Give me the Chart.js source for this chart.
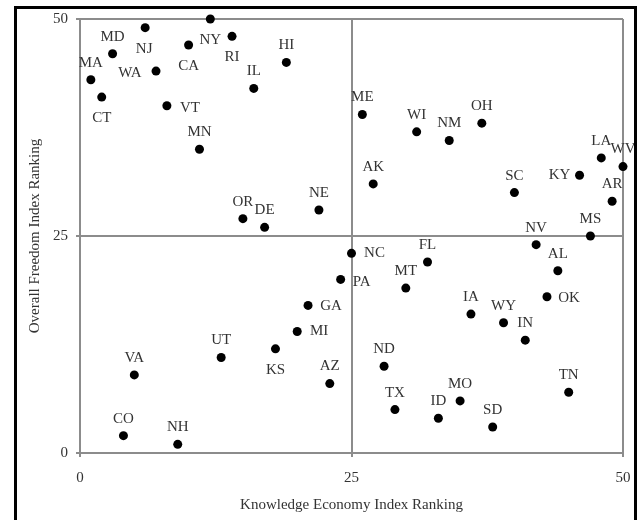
<!DOCTYPE html>
<html>
<head>
<meta charset="utf-8">
<script src="https://cdn.jsdelivr.net/npm/chart.js@4"></script>
<style>
  body { margin: 0; background: #fff; }
  #wrap { width: 644px; height: 520px; }
</style>
</head>
<body>
<div id="wrap"><canvas id="myChart" width="644" height="520"></canvas></div>
<script>
// State labels with Knowledge Economy rank (x) and Overall Freedom rank (y)
const states = ['MA','CT','MD','CO','VA','NJ','WA','VT','NH','CA',
                'MN','NY','UT','RI','OR','IL','DE','KS','HI','MI',
                'GA','NE','AZ','PA','NC','ME','AK','ND','TX','MT',
                'WI','FL','ID','NM','MO','IA','OH','SD','WY','SC',
                'IN','NV','OK','AL','TN','KY','MS','LA','AR','WV'];
const knowledgeRank = [1,2,3,4,5,6,7,8,9,10,
                       11,12,13,14,15,16,17,18,19,20,
                       21,22,23,24,25,26,27,28,29,30,
                       31,32,33,34,35,36,37,38,39,40,
                       41,42,43,44,45,46,47,48,49,50];
const freedomRank = [43,41,46,2,9,49,44,40,1,47,
                     35,50,11,48,27,42,26,12,45,14,
                     17,28,8,20,23,39,31,10,5,19,
                     37,22,4,36,6,16,38,3,15,30,
                     13,24,18,21,7,32,25,34,29,33];
const tickValues = [0, 25, 50];

// where each label sits relative to its dot (default: above)
const labelOffset = {
    CT: [0, 21], NJ: [-1, 21], CA: [0, 21], NY: [0, 21], RI: [0, 21], KS: [0, 21],
    WA: [-26, 2], KY: [-20, 0],
    VT: [23, 2], NC: [23, 0], PA: [21, 3], OK: [22, 1], GA: [23, 1], MI: [22, 0]
};

const FONT = 'Liberation Serif, Times New Roman, serif';
const GRID = '#8c8c8c';

const points = states.map((s, i) => ({ x: knowledgeRank[i], y: freedomRank[i], label: s }));

// draws the state abbreviations next to each dot
const stateLabels = {
    id: 'stateLabels',
    afterDatasetsDraw(chart) {
        const ctx = chart.ctx;
        const meta = chart.getDatasetMeta(0);
        ctx.save();
        ctx.font = '15px ' + FONT;
        ctx.fillStyle = '#333';
        ctx.textAlign = 'center';
        ctx.textBaseline = 'middle';
        meta.data.forEach((pt, i) => {
            const off = labelOffset[states[i]] || [0, -17];
            ctx.fillText(states[i], pt.x + off[0], pt.y + off[1]);
        });
        ctx.restore();
    }
};

// black frame round the whole picture
const outerFrame = {
    id: 'outerFrame',
    afterDraw(chart) {
        const ctx = chart.ctx;
        ctx.save();
        ctx.strokeStyle = '#000';
        ctx.lineWidth = 3;
        ctx.strokeRect(15.5, 7.5, 620, 520);
        ctx.restore();
    }
};

const ctx = document.getElementById('myChart').getContext('2d');
new Chart(ctx, {
    type: 'scatter',
    data: {
        datasets: [{
            data: points,
            backgroundColor: '#000',
            borderWidth: 0,
            pointRadius: 4.5,
            pointHoverRadius: 4.5,
            clip: false
        }]
    },
    options: {
        responsive: false,
        animation: false,
        layout: { padding: { top: 19, right: 21, left: 0, bottom: 0 } },
        plugins: {
            legend: { display: false },
            tooltip: { enabled: false }
        },
        scales: {
            x: {
                type: 'linear',
                min: 0,
                max: 50,
                afterBuildTicks: axis => { axis.ticks = tickValues.map(v => ({ value: v })); },
                afterFit: axis => { axis.height = 67; },
                ticks: { color: '#333', font: { family: FONT, size: 15 }, padding: 12, maxRotation: 0 },
                grid: { color: GRID, lineWidth: 2, tickLength: 4, tickColor: GRID },
                border: { color: GRID, width: 2 },
                title: {
                    display: true,
                    text: 'Knowledge Economy Index Ranking',
                    color: '#333',
                    font: { family: FONT, size: 15 },
                    padding: { top: 0, bottom: 6 }
                }
            },
            y: {
                type: 'linear',
                min: 0,
                max: 50,
                afterBuildTicks: axis => { axis.ticks = tickValues.map(v => ({ value: v })); },
                afterFit: axis => { axis.width = 80; },
                ticks: { color: '#333', font: { family: FONT, size: 15 }, padding: 8 },
                grid: { color: GRID, lineWidth: 2, tickLength: 4, tickColor: GRID },
                border: { color: GRID, width: 2 },
                title: {
                    display: true,
                    text: 'Overall Freedom Index Ranking',
                    color: '#333',
                    font: { family: FONT, size: 15 },
                    padding: { top: 26, bottom: 0 }
                }
            }
        }
    },
    plugins: [stateLabels, outerFrame]
});
</script>
</body>
</html>
